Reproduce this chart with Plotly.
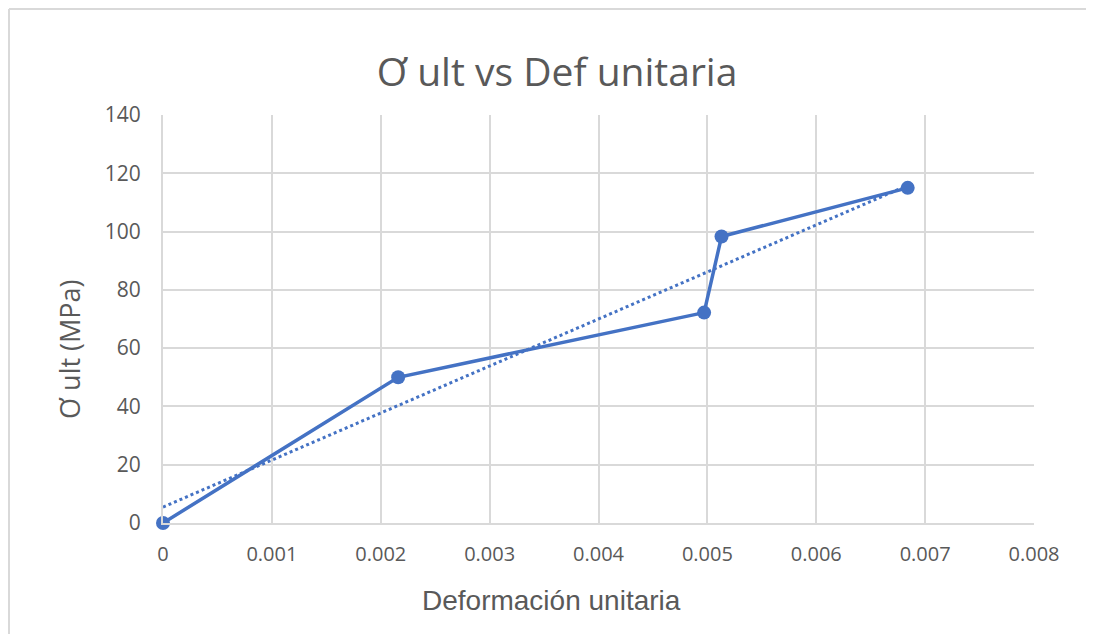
import numpy as np
import plotly.graph_objects as go

deformacion = [0.0, 0.00216, 0.00497, 0.00513, 0.00684]
sigma_ult = [0.0, 50.0, 72.2, 98.3, 115.0]
x_ticks = [0, 0.001, 0.002, 0.003, 0.004, 0.005, 0.006, 0.007, 0.008]
x_tick_labels = ["0", "0.001", "0.002", "0.003", "0.004", "0.005", "0.006", "0.007", "0.008"]
y_ticks = [0, 20, 40, 60, 80, 100, 120, 140]

BLUE = "#4472C4"
GRID = "#d9d9d9"
TXT = "#595959"

slope, intercept = np.polyfit(deformacion, sigma_ult, 1)
tx = [min(deformacion), max(deformacion)]
ty = [slope * v + intercept for v in tx]

fig = go.Figure()
fig.add_trace(go.Scatter(x=tx, y=ty, mode="lines",
                         line=dict(color=BLUE, width=3, dash="dot"),
                         hoverinfo="skip", showlegend=False, cliponaxis=False))
fig.add_trace(go.Scatter(x=deformacion, y=sigma_ult, mode="lines+markers",
                         line=dict(color=BLUE, width=3.5),
                         marker=dict(color=BLUE, size=14),
                         showlegend=False, cliponaxis=False))

OFF = 8  # page body margin
W, H = 1094 - OFF, 634 - OFF
L, R, T, B = 163 - OFF, 60, 115 - OFF, 111
pw, ph = W - L - R, H - T - B


def px(xp):
    return (xp - OFF - L) / pw


def py(yp):
    return 1 - (yp - OFF - T) / ph


fig.update_layout(
    width=W, height=H,
    margin=dict(l=L, r=R, t=T, b=B),
    paper_bgcolor="white", plot_bgcolor="white",
    title=dict(text="Ơ ult vs Def unitaria", x=(557 - OFF) / W, xanchor="center",
               y=1 - (72 - OFF) / H, yanchor="middle",
               font=dict(family="Open Sans", size=39, color=TXT)),
    xaxis=dict(range=[0, 0.008], tickvals=x_ticks, ticktext=x_tick_labels,
               showgrid=True, gridcolor=GRID, gridwidth=2,
               showline=True, linecolor=GRID, linewidth=2,
               zeroline=False, ticks="", ticklabelstandoff=12,
               tickfont=dict(family="Open Sans", size=20, color=TXT)),
    yaxis=dict(range=[0, 140], tickvals=y_ticks,
               showgrid=True, gridcolor=GRID, gridwidth=2,
               showline=True, linecolor=GRID, linewidth=2,
               zeroline=False, ticks="", ticklabelstandoff=16,
               tickfont=dict(family="Open Sans", size=21, color=TXT)),
)

fig.add_annotation(text="Deformación unitaria", xref="paper", yref="paper",
                   x=px(551), y=py(600), xanchor="center", yanchor="middle",
                   showarrow=False,
                   font=dict(family="Liberation Sans", size=28, color=TXT))
fig.add_annotation(text="Ơ ult (MPa)", xref="paper", yref="paper",
                   x=px(69), y=py(349), xanchor="center", yanchor="middle",
                   textangle=-90, showarrow=False,
                   font=dict(family="Open Sans", size=27, color=TXT))

# outer chart border (left, top, right)
x0 = px(9)
x1 = px(1087)
y1 = py(9)
y0 = py(700)
for a, b, c, d in [(x0, x0, y0, y1), (x0, x1, y1, y1), (x1, x1, y0, y1)]:
    fig.add_shape(type="line", xref="paper", yref="paper", x0=a, x1=b, y0=c, y1=d,
                  line=dict(color=GRID, width=2))

fig.write_html("out.html")
